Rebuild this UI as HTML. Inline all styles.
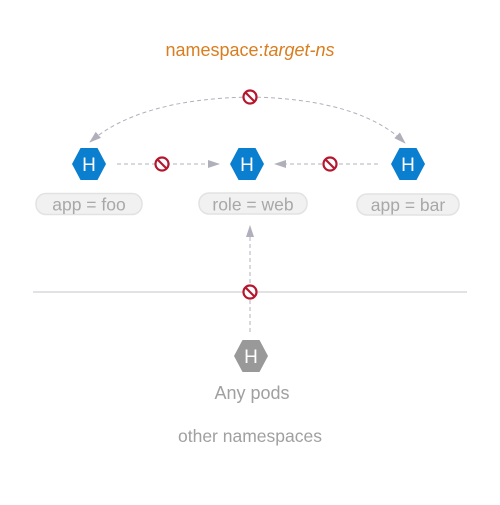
<!DOCTYPE html>
<html><head><style>
body{margin:0;background:#fff;}
svg text{font-family:"Liberation Sans",sans-serif;}
</style></head><body>
<svg width="500" height="500">
<defs>
<marker id="ah" markerWidth="12" markerHeight="8" refX="11" refY="4" orient="auto" markerUnits="userSpaceOnUse"><path d="M0,0 L12,4 L0,8 Z" fill="#b0b0bc"/></marker>
<g id="nosign"><circle r="6.5" fill="#fff" stroke="#b5172e" stroke-width="2.2"/><line x1="-4.5" y1="-4.5" x2="4.5" y2="4.5" stroke="#b5172e" stroke-width="2.2"/></g>
<path id="hex" d="M-17,0 L-8.5,-16 L8.5,-16 L17,0 L8.5,16 L-8.5,16 Z"/>
</defs>
<text x="250" y="56" text-anchor="middle" font-size="18" fill="#d97d1f">namespace:<tspan font-style="italic">target-ns</tspan></text>
<path d="M250,97 Q140,99 90,142" fill="none" stroke="#b0b0bc" stroke-dasharray="4,3" marker-end="url(#ah)"/>
<path d="M250,97 Q360,99 405,143" fill="none" stroke="#b0b0bc" stroke-dasharray="4,3" marker-end="url(#ah)"/>
<line x1="117" y1="164" x2="219" y2="164" stroke="#b0b0bc" stroke-dasharray="4,3" marker-end="url(#ah)"/>
<line x1="378" y1="164" x2="275" y2="164" stroke="#b0b0bc" stroke-dasharray="4,3" marker-end="url(#ah)"/>
<line x1="33" y1="292" x2="467" y2="292" stroke="#d8d8dc" stroke-width="1.5"/>
<line x1="250" y1="332" x2="250" y2="226" stroke="#b0b0bc" stroke-dasharray="4,3" marker-end="url(#ah)"/>
<use href="#nosign" x="250" y="97"/>
<use href="#nosign" x="162" y="164"/>
<use href="#nosign" x="330" y="164"/>
<use href="#nosign" x="250" y="292"/>
<g><use href="#hex" x="89" y="164" fill="#0a7fd0"/><text x="89" y="171" text-anchor="middle" font-size="19" fill="#fff">H</text></g>
<g><use href="#hex" x="247" y="164" fill="#0a7fd0"/><text x="247" y="171" text-anchor="middle" font-size="19" fill="#fff">H</text></g>
<g><use href="#hex" x="408" y="164" fill="#0a7fd0"/><text x="408" y="171" text-anchor="middle" font-size="19" fill="#fff">H</text></g>
<g><use href="#hex" x="251" y="356" fill="#999"/><text x="251" y="363" text-anchor="middle" font-size="19" fill="#fff">H</text></g>
<g><rect x="36" y="193.5" width="106" height="21" rx="10" fill="#f1f1f1" stroke="#e2e2e2" stroke-width="1.5"/><text x="89" y="210.5" text-anchor="middle" font-size="17.5" fill="#a8a8a8">app = foo</text></g>
<g><rect x="199" y="193" width="108" height="21" rx="10" fill="#f1f1f1" stroke="#e2e2e2" stroke-width="1.5"/><text x="253" y="210.5" text-anchor="middle" font-size="17.5" fill="#a8a8a8">role = web</text></g>
<g><rect x="357" y="194" width="102" height="21" rx="10" fill="#f1f1f1" stroke="#e2e2e2" stroke-width="1.5"/><text x="408" y="211" text-anchor="middle" font-size="17.5" fill="#a8a8a8">app = bar</text></g>
<text x="252" y="399" text-anchor="middle" font-size="18" fill="#a0a0a0">Any pods</text>
<text x="250" y="442" text-anchor="middle" font-size="17.5" fill="#a0a0a0">other namespaces</text>
</svg>
</body></html>
